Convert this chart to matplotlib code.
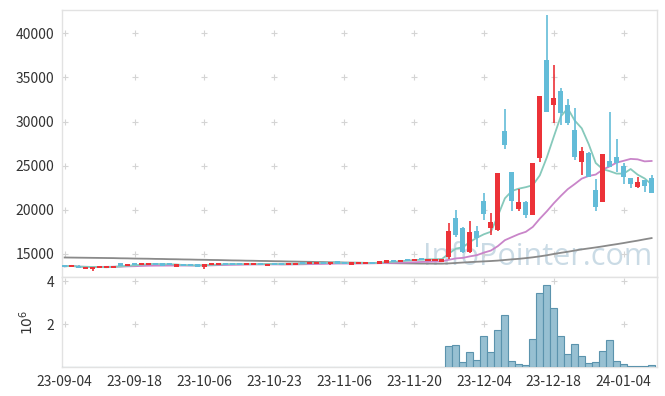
import numpy as np
import pandas as pd
import matplotlib
matplotlib.use('Agg')
import matplotlib.pyplot as plt

plt.rcParams['font.family'] = ['Noto Sans CJK KR', 'DejaVu Sans']

# daily candles (trading-day index 0 = 23-09-04)
opens = [13750, 13580, 13680, 13380, 13360, 13400, 13550, 13380, 13940, 13700,
         13870, 13800, 13720, 14010, 13900, 13900, 13600, 13790, 13860, 13750,
         13570, 13750, 13760, 13940, 13940, 13940, 13790, 13750, 13940, 13680,
         13940, 13980, 13750, 13790, 14090, 13900, 13900, 14020, 13830, 14050,
         14020, 13870, 13870, 13900, 14020, 14000, 14050, 14240, 14130, 14360,
         14240, 14430, 14210, 14300, 14130, 14700, 19050, 17910, 15190, 17610,
         21010, 17990, 17720, 28950, 24260, 20070, 20900, 19390, 25920, 37000,
         31860, 33480, 31860, 29060, 25470, 26490, 22260, 20940, 25550, 25960,
         25020, 23580, 22640, 23350, 23580]
highs = [13790, 13740, 13700, 13500, 13500, 13600, 13600, 13660, 13960, 13900,
         13900, 13960, 14000, 14030, 13920, 13920, 13800, 13810, 13880, 13770,
         13880, 13950, 13950, 13960, 13960, 13960, 13950, 13950, 13960, 13910,
         13960, 14000, 14000, 13990, 14120, 14110, 14030, 14040, 14070, 14070,
         14040, 13960, 14030, 14030, 14040, 14070, 14260, 14260, 14370, 14380,
         14440, 14450, 14450, 14450, 14450, 18480, 19990, 18100, 18740, 18180,
         21880, 19610, 24190, 31440, 24300, 22330, 20950, 25320, 32920, 42100,
         36400, 33790, 32580, 31520, 27130, 26500, 23470, 26340, 31070, 28040,
         25280, 23590, 23770, 23360, 23960]
lows = [13560, 13560, 13370, 13260, 13110, 13380, 13520, 13370, 13660, 13680,
        13770, 13790, 13700, 13780, 13700, 13740, 13580, 13670, 13630, 13620,
        13340, 13740, 13750, 13820, 13740, 13780, 13780, 13740, 13780, 13670,
        13780, 13780, 13740, 13780, 13900, 13890, 13880, 13960, 13700, 13990,
        13850, 13850, 13860, 13890, 13980, 13990, 14040, 14180, 14120, 14300,
        14230, 14380, 14200, 14250, 14100, 14400, 16970, 15080, 15080, 15760,
        18860, 17160, 17610, 26870, 19910, 19910, 19050, 19380, 25400, 31060,
        29890, 29630, 29630, 25660, 23960, 23690, 19910, 20860, 24900, 24340,
        22940, 22450, 22450, 22070, 21880]
closes = [13600, 13700, 13400, 13470, 13470, 13560, 13570, 13640, 13680, 13870,
          13790, 13940, 13980, 13790, 13720, 13750, 13790, 13680, 13640, 13640,
          13860, 13940, 13940, 13830, 13750, 13790, 13940, 13940, 13790, 13900,
          13790, 13790, 13980, 13980, 13910, 14090, 14020, 13980, 14050, 14010,
          13870, 13950, 14020, 14020, 14000, 14060, 14240, 14200, 14360, 14320,
          14430, 14400, 14430, 14420, 14430, 17610, 17160, 15190, 17460, 16780,
          19570, 18590, 24190, 27360, 20970, 20900, 19420, 25320, 32920, 31070,
          32690, 30950, 29820, 26040, 26680, 23700, 20290, 26340, 24900, 25280,
          23690, 22900, 23160, 22750, 21880]
volumes = [6000, 5000, 7000, 6000, 8000, 5000, 4000, 6000, 9000, 6000,
           5000, 6000, 7000, 5000, 4000, 4000, 6000, 4000, 5000, 4000,
           7000, 5000, 4000, 4000, 5000, 4000, 5000, 4000, 4000, 6000,
           4000, 4000, 5000, 5000, 6000, 5000, 4000, 4000, 6000, 4000,
           5000, 4000, 4000, 5000, 4000, 4000, 7000, 5000, 8000, 5000,
           8000, 6000, 7000, 7000, 9000, 980000, 1030000, 240000, 700000, 330000,
           1460000, 700000, 1750000, 2410000, 270000, 130000, 80000, 1320000, 3460000, 3840000,
           2750000, 1460000, 600000, 1080000, 510000, 170000, 220000, 750000, 1270000, 270000,
           130000, 30000, 30000, 30000, 80000]
# 120-day average (needs history before the window)
ma120 = [14600, 14590, 14580, 14570, 14560, 14550, 14540, 14530, 14510, 14500,
         14480, 14470, 14460, 14440, 14430, 14410, 14400, 14380, 14370, 14350,
         14340, 14320, 14310, 14290, 14270, 14260, 14240, 14230, 14210, 14200,
         14180, 14170, 14150, 14140, 14120, 14110, 14090, 14080, 14060, 14050,
         14030, 14020, 14010, 13990, 13980, 13970, 13960, 13950, 13940, 13930,
         13920, 13910, 13910, 13900, 13900, 13930, 13980, 14030, 14080, 14120,
         14160, 14200, 14250, 14320, 14390, 14450, 14530, 14620, 14730, 14850,
         15000, 15130, 15250, 15390, 15520, 15630, 15740, 15860, 15990, 16110,
         16240, 16380, 16510, 16660, 16800]
tick_labels = ['23-09-04', '23-09-18', '23-10-06', '23-10-23', '23-11-06',
               '23-11-20', '23-12-04', '23-12-18', '24-01-04']

UP = '#ec3238'
DOWN = '#63bcd8'
GRID = '#d4d4d4'
SPINE = '#e2e2e2'

o = np.array(opens)
c = np.array(closes)
h = np.array(highs)
l = np.array(lows)
x = np.arange(len(o))
ma5 = pd.Series(c).rolling(5, min_periods=1).mean()
ma20 = pd.Series(c).rolling(20, min_periods=1).mean()

fig = plt.figure(figsize=(6.65, 3.96), dpi=100)
left = 61.5 / 665
width = (656.5 - 61.5) / 665
ax = fig.add_axes([left, 119 / 396, width, 267 / 396])
axv = fig.add_axes([left, 29 / 396, width, 90 / 396], sharex=ax)

# watermark
ax.text(0.80, 0.075, 'InfoPointer.com', transform=ax.transAxes, fontsize=22,
        family=['Open Sans', 'DejaVu Sans'], color='#b9cfdd', alpha=0.75,
        ha='center', va='center', zorder=0)

# moving averages under the candles
ax.plot(x, ma120, color='#8a8a8a', lw=1.3, zorder=3)
ax.plot(x, ma20, color='#c985c9', lw=1.3, zorder=3)
ax.plot(x, ma5, color='#86c9bb', lw=1.3, zorder=3)

colors = np.where(c >= o, UP, DOWN)
ax.vlines(x, l, h, colors=colors, linewidth=1.2, zorder=4)
# tiny bodies still get a couple of pixels, as in the original
body = np.maximum(np.abs(c - o), 250)
bottom = (o + c) / 2 - body / 2
ax.bar(x, body, bottom=bottom, width=0.72, color=colors, zorder=4)

axv.bar(x, volumes, width=1.0, color='#97c0d2', edgecolor='#5b93ad',
        linewidth=0.8, zorder=3)

ticks = np.arange(0, 10 * len(tick_labels), 10)
ax.set_xlim(-0.45, 84.7)
ax.set_ylim(12390, 42640)
axv.set_ylim(0, 4.21e6)
ax.set_yticks([15000, 20000, 25000, 30000, 35000, 40000])
axv.set_yticks([2e6, 4e6])
axv.set_yticklabels(['2', '4'])
axv.set_xticks(ticks)
axv.set_xticklabels(tick_labels)
axv.set_ylabel('$10^6$', fontsize=10, color='#333333', labelpad=8)

for a in (ax, axv):
    for s in a.spines.values():
        s.set_color(SPINE)
        s.set_linewidth(1.0)
    a.tick_params(length=0, labelsize=10, colors='#333333', pad=5)
    gx, gy = np.meshgrid(ticks, a.get_yticks())
    a.plot(gx.ravel(), gy.ravel(), linestyle='none', marker='+', ms=5,
           mew=0.8, color=GRID, zorder=1)
ax.tick_params(labelbottom=False)
axv.tick_params(axis='x', pad=6)

fig.savefig('out.png', dpi=100)
